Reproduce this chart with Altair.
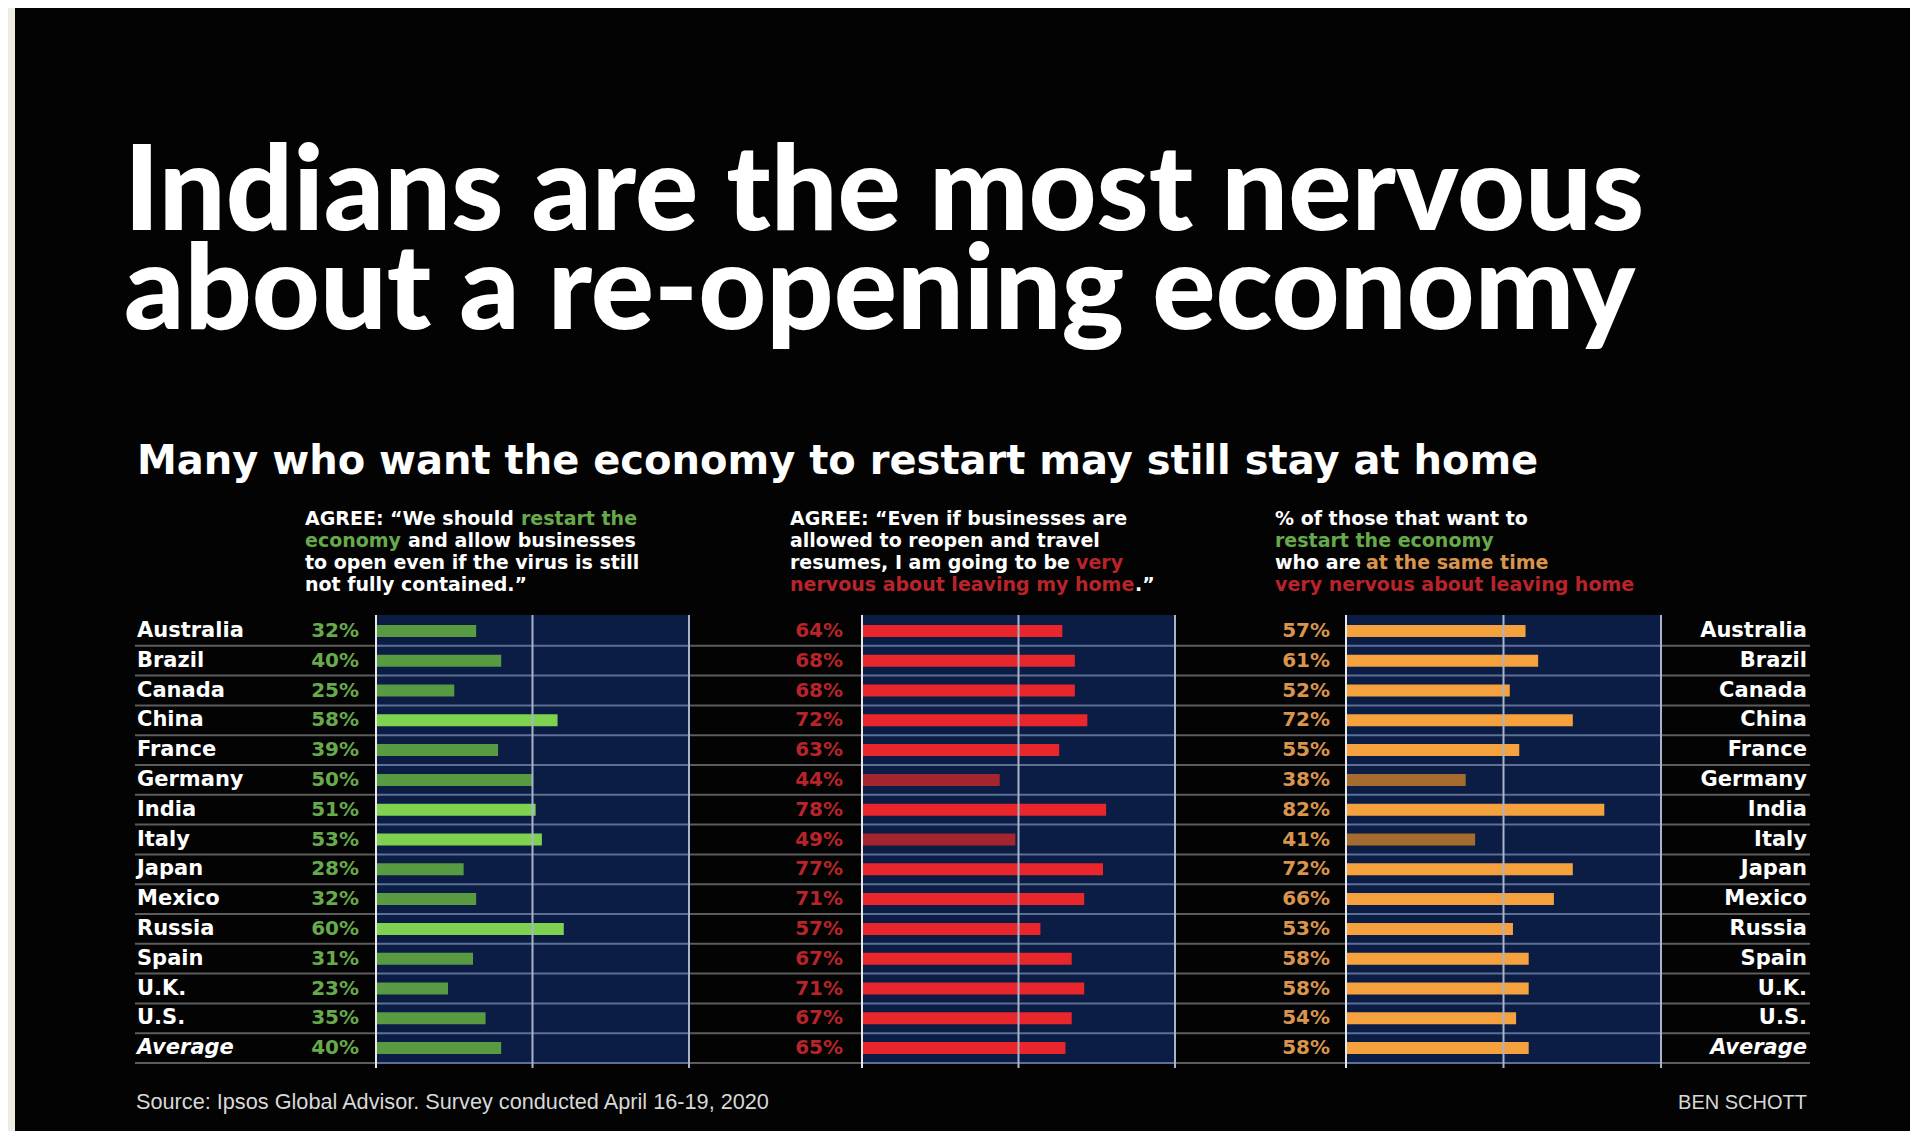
import altair as alt
import pandas as pd

countries = ["Australia", "Brazil", "Canada", "China", "France", "Germany", "India",
             "Italy", "Japan", "Mexico", "Russia", "Spain", "U.K.", "U.S.", "Average"]
restart = [32, 40, 25, 58, 39, 50, 51, 53, 28, 32, 60, 31, 23, 35, 40]
nervous = [64, 68, 68, 72, 63, 44, 78, 49, 77, 71, 57, 67, 71, 67, 65]
both = [57, 61, 52, 72, 55, 38, 82, 41, 72, 66, 53, 58, 58, 54, 58]
ticks = [0, 50, 100]

df = pd.DataFrame({"country": countries, "restart": restart, "nervous": nervous, "both": both})
df["restart_lbl"] = [f"{v}%" for v in restart]
df["nervous_lbl"] = [f"{v}%" for v in nervous]
df["both_lbl"] = [f"{v}%" for v in both]
tick_df = pd.DataFrame({"t": ticks})
one = pd.DataFrame({"lo": [0], "hi": [100]})

W, H = 1902, 1123
Y0, Y1 = 608, 1055           # band range of the rows
PT, PB = 607, 1055           # panel top / bottom
BAND = (Y1 - Y0) / len(countries)

BG = "#030303"
NAVY = "#0b1d44"
GREEN, GREEN_M = "#7fd24f", "#579a42"
RED, RED_M = "#e9262c", "#a3252e"
ORANGE, ORANGE_M = "#f5a23e", "#a46d2f"
TXT_GREEN, TXT_RED, TXT_ORANGE = "#67aa4c", "#b82429", "#d9944e"
FONT = "DejaVu Sans"

yscale = alt.Scale(domain=countries, range=[Y0, Y1], paddingInner=0, paddingOuter=0)
Yenc = alt.Y("country:N", sort=countries, scale=yscale, axis=None)

panels = {
    "restart": [368, 681],
    "nervous": [854, 1167],
    "both": [1338, 1653],
}

layers = []

def txt(s, x, y, color="white", size=17, weight="bold", align="left", font=FONT,
        baseline="alphabetic", style="normal", **kw):
    return alt.Chart(one).mark_text(
        text=s, align=align, baseline=baseline, font=font, fontSize=size,
        fontWeight=weight, color=color, fontStyle=style, **kw
    ).encode(x=alt.value(x), y=alt.value(y))

# cream left strip of the photographed page
layers.append(alt.Chart(one).mark_rect(color="#efece2").encode(
    x=alt.value(0), x2=alt.value(7), y=alt.value(0), y2=alt.value(H)))

# title (two lines in one text mark)
layers.append(txt(["Indians are the most nervous", "about a re-opening economy"], 116, 222,
                  size=118, weight=900, font="Lato", lineHeight=99))
layers.append(txt("Many who want the economy to restart may still stay at home", 129, 466,
                  size=40, weight="bold"))

# column headers
HS = 19
hy = [517, 539, 561, 583]
# column 1
layers += [
    txt("AGREE: \u201cWe should", 297, hy[0], size=HS),
    txt("restart the", 513, hy[0], color=TXT_GREEN, size=HS),
    txt("economy", 297, hy[1], color=TXT_GREEN, size=HS),
    txt("and allow businesses", 400, hy[1], size=HS),
    txt("to open even if the virus is still", 297, hy[2], size=HS),
    txt("not fully contained.\u201d", 297, hy[3], size=HS),
]
# column 2
layers += [
    txt("AGREE: \u201cEven if businesses are", 782, hy[0], size=HS),
    txt("allowed to reopen and travel", 782, hy[1], size=HS),
    txt("resumes, I am going to be", 782, hy[2], size=HS),
    txt("very", 1068, hy[2], color=TXT_RED, size=HS),
    txt("nervous about leaving my home", 782, hy[3], color=TXT_RED, size=HS),
    txt(".\u201d", 1127, hy[3], size=HS),
]
# column 3
layers += [
    txt("% of those that want to", 1267, hy[0], size=HS),
    txt("restart the economy", 1267, hy[1], color=TXT_GREEN, size=HS),
    txt("who are", 1267, hy[2], size=HS),
    txt("at the same time", 1358, hy[2], color=TXT_ORANGE, size=HS),
    txt("very nervous about leaving home", 1267, hy[3], color=TXT_RED, size=HS),
]

# grey row separators spanning the full width
base = alt.Chart(df)
layers.append(base.mark_rule(color="#5c5c5c", strokeWidth=2, yOffset=BAND / 2).encode(
    y=Yenc, x=alt.value(127), x2=alt.value(1802)))

specs = [
    ("restart", GREEN, GREEN_M, TXT_GREEN, 351, "datum.restart > 50"),
    ("nervous", RED, RED_M, TXT_RED, 835, "datum.nervous >= 50"),
    ("both", ORANGE, ORANGE_M, TXT_ORANGE, 1322, "datum.both >= 50"),
]

for field, c_hi, c_lo, c_txt, lbl_x, test in specs:
    xs = alt.Scale(domain=[0, 100], range=panels[field], zero=False, nice=False)
    # navy panel
    layers.append(alt.Chart(one).mark_rect(color=NAVY).encode(
        x=alt.X("lo:Q", scale=xs, axis=None), x2="hi:Q",
        y=alt.value(PT), y2=alt.value(PB)))
    # blue-grey separators inside panel
    layers.append(base.mark_rule(color="#5d6f93", strokeWidth=2, yOffset=BAND / 2).transform_calculate(
        lo="0", hi="100").encode(
        y=Yenc, x=alt.X("lo:Q", scale=xs, axis=None), x2="hi:Q"))
    # bars
    layers.append(base.mark_bar(size=12).encode(
        y=Yenc,
        x=alt.X(f"{field}:Q", scale=xs, axis=None),
        x2=alt.datum(0),
        color=alt.condition(test, alt.value(c_hi), alt.value(c_lo)),
    ))
    # vertical grid lines
    layers.append(alt.Chart(tick_df).mark_rule(strokeWidth=2).encode(
        x=alt.X("t:Q", scale=xs, axis=None),
        y=alt.value(PT), y2=alt.value(PB + 5),
        color=alt.condition("datum.t == 0", alt.value("#e8e8e8"), alt.value("#aab4c8")),
    ))
    # value labels
    layers.append(base.mark_text(align="right", baseline="middle", font=FONT, fontSize=20,
                                 fontWeight="bold", color=c_txt).encode(
        y=Yenc, x=alt.value(lbl_x), text=f"{field}_lbl:N"))

# country labels, left and right (Average in italics)
for style, flt in [("normal", "datum.country != 'Average'"), ("italic", "datum.country == 'Average'")]:
    layers.append(base.mark_text(align="left", baseline="middle", font=FONT, fontSize=21,
                                 fontWeight="bold", color="white", fontStyle=style
                                 ).transform_filter(flt).encode(
        y=Yenc, x=alt.value(129), text="country:N"))
    layers.append(base.mark_text(align="right", baseline="middle", font=FONT, fontSize=21,
                                 fontWeight="bold", color="white", fontStyle=style
                                 ).transform_filter(flt).encode(
        y=Yenc, x=alt.value(1799), text="country:N"))

# footer
layers.append(txt("Source: Ipsos Global Advisor. Survey conducted April 16-19, 2020", 128, 1101,
                  color="#d8d8d8", size=21.7, weight="normal", font="Liberation Sans"))
layers.append(txt("BEN SCHOTT", 1799, 1101, color="#d8d8d8", size=20, weight="normal",
                  font="Liberation Sans", align="right"))

chart = alt.layer(*layers).resolve_scale(x="independent").properties(
    width=W, height=H, background=BG, padding=0, autosize=alt.AutoSizeParams(type="none")
).configure_view(stroke=None)

chart.save("out.html", embed_options={"renderer": "svg", "actions": False})
